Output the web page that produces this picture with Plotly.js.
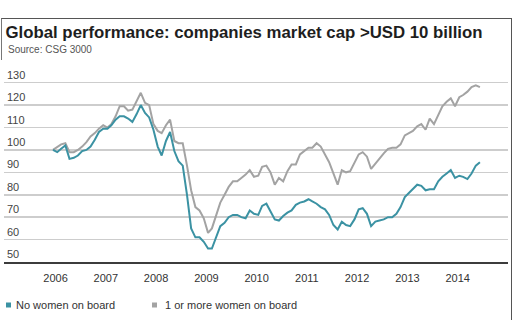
<!DOCTYPE html>
<html>
<head>
<meta charset="utf-8">
<script src="https://cdn.plot.ly/plotly-3.0.1.min.js"></script>
<style>
html,body{margin:0;padding:0;background:#fff;}
#chart{width:520px;height:320px;}
</style>
</head>
<body>
<div id="chart"></div>
<script>
// ---- Data (monthly index values, Jan 2006 = 100) ----
var startYear = 2006;
var yearLabels = ['2006','2007','2008','2009','2010','2011','2012','2013','2014'];
var yTickValues = [50, 60, 70, 80, 90, 100, 110, 120, 130];
var seriesNames = ['No women on board', '1 or more women on board'];

var noWomen = [
  100, 99, 100.5, 102, 96, 96.5, 97.5, 99.5, 100, 101.5, 104.5, 108,
  109.5, 109.5, 111, 113.5, 115, 115, 114, 112.5, 116, 120, 116.5, 114.5,
  109, 101.5, 97.5, 104, 108, 99.5, 95, 93, 80, 65, 61, 61,
  59, 56, 56, 61, 66, 67.5, 70, 71, 71, 70, 69.5, 73,
  71.5, 71, 75, 76, 72.5, 69, 68.5, 70.5, 72, 73, 75.5, 76.5,
  77, 78, 77, 76, 74.5, 73.5, 71, 66.5, 64.5, 68, 66.5, 66,
  69, 73.5, 74, 71.5, 66, 68, 68.5, 69, 70, 70, 71.5, 74.5,
  79, 81, 82.5, 84.5, 84, 82, 82.5, 82.5, 86, 88, 89.5, 91,
  87.5, 88.5, 88, 87, 89.5, 93, 94.5
];
var withWomen = [
  100, 101.5, 102.5, 103, 99, 99, 100, 101.5, 103.5, 106, 107.5, 109.5,
  111, 110, 111.5, 115, 119.5, 119.5, 117.5, 118, 121.5, 125.5, 121, 120,
  111.5, 108.5, 107.5, 111, 113.5, 104, 103, 103, 93, 82, 74.5, 73,
  69.5, 63, 65, 71, 76.5, 80, 83.5, 86, 86, 87.5, 89, 91,
  88, 88.5, 92.5, 93, 90, 84.5, 87.5, 86, 90.5, 93.5, 93.5, 98,
  99.5, 101, 101, 103, 101.5, 98, 94.5, 89.5, 84.5, 91, 90, 90.5,
  94, 98, 99, 97, 91.5, 94, 96.5, 98.5, 100.5, 101, 101, 102.5,
  106.5, 107.5, 108.5, 110.5, 111.5, 109, 114, 111.5, 115.5, 119.5, 121.5, 123,
  119.5, 123.5, 124.5, 126, 128, 128.8, 128
];

// monthly dates (x positions on the date axis)
function monthDates(n){
  var out = [];
  for (var i = 0; i < n; i++){
    var y = startYear + Math.floor(i/12), m = (i % 12) + 1;
    out.push(y + '-' + (m < 10 ? '0' + m : m) + '-01');
  }
  return out;
}
var dates = monthDates(noWomen.length);
var tickDates = yearLabels.map(function(y){ return y + '-01-20'; });

// ---- Layout helpers (pixel -> paper) ----
var W = 520, H = 320, mL = 4, mR = 12, mT = 67, mB = 58;
var pw = W - mL - mR, ph = H - mT - mB;
function px(x){ return (x - mL) / pw; }
function py(y){ return (H - mB - y) / ph; }

var teal = '#3b92a3', grey = '#a3a3a3';
var font = 'Liberation Sans, Arial, Helvetica, sans-serif';

var traces = [
  {x: dates, y: withWomen, type: 'scatter', mode: 'lines', name: seriesNames[1],
   line: {color: grey, width: 2}, hoverinfo: 'skip'},
  {x: dates, y: noWomen, type: 'scatter', mode: 'lines', name: seriesNames[0],
   line: {color: teal, width: 2}, hoverinfo: 'skip'}
];

var layout = {
  width: W, height: H,
  margin: {l: mL, r: mR, t: mT, b: mB, pad: 0},
  paper_bgcolor: '#fff', plot_bgcolor: '#fff',
  showlegend: false,
  font: {family: font, color: '#333', size: 11},
  title: {
    text: '<b>Global performance: companies market cap >USD 10 billion</b>',
    font: {family: font, size: 16.8, color: '#1e1e1e'},
    x: 5.5 / W, xanchor: 'left', xref: 'container',
    y: 1 - 32 / H, yanchor: 'middle', yref: 'container'
  },
  xaxis: {
    type: 'date',
    range: ['2005-01-10', '2015-01-21'],
    tickmode: 'array', tickvals: tickDates, ticktext: yearLabels,
    ticks: 'outside', ticklen: 5, tickcolor: 'rgba(0,0,0,0)',
    tickfont: {family: font, size: 11, color: '#333'},
    showgrid: false, zeroline: false,
    showline: true, linecolor: '#3c3c3c', linewidth: 2
  },
  yaxis: {
    range: [50, 137],
    tickmode: 'array', tickvals: yTickValues,
    ticklabelposition: 'inside top',
    ticks: '',
    tickfont: {family: font, size: 11, color: '#444'},
    showgrid: true, gridcolor: '#cdcdcd', gridwidth: 1.5,
    zeroline: false, showline: false
  },
  annotations: [
    {text: 'Source: CSG 3000', xref: 'paper', yref: 'paper',
     x: px(5.5), y: py(49.5), xanchor: 'left', yanchor: 'middle', showarrow: false,
     font: {family: font, size: 10, color: '#555'}},
    {text: seriesNames[0], xref: 'paper', yref: 'paper',
     x: px(13.5), y: py(305), xanchor: 'left', yanchor: 'middle', showarrow: false,
     font: {family: font, size: 11, color: '#333'}},
    {text: seriesNames[1], xref: 'paper', yref: 'paper',
     x: px(162.5), y: py(305), xanchor: 'left', yanchor: 'middle', showarrow: false,
     font: {family: font, size: 11, color: '#333'}}
  ],
  shapes: [
    {type: 'rect', xref: 'paper', yref: 'paper', x0: px(6), x1: px(11), y0: py(307.5), y1: py(302.5),
     fillcolor: teal, line: {width: 0}},
    {type: 'rect', xref: 'paper', yref: 'paper', x0: px(152), x1: px(157), y0: py(307.5), y1: py(302.5),
     fillcolor: grey, line: {width: 0}},
    // frame
    {type: 'line', xref: 'paper', yref: 'paper', x0: px(1), x1: px(512), y0: py(18.5), y1: py(18.5),
     line: {color: '#555', width: 1}},
    {type: 'line', xref: 'paper', yref: 'paper', x0: px(511.5), x1: px(511.5), y0: py(18.5), y1: py(322),
     line: {color: '#555', width: 1}},
    {type: 'line', xref: 'paper', yref: 'paper', x0: px(1.5), x1: px(1.5), y0: py(18.5), y1: py(60),
     line: {color: '#777', width: 1}}
  ]
};

Plotly.newPlot('chart', traces, layout, {displayModeBar: false, staticPlot: true});
</script>
</body>
</html>
